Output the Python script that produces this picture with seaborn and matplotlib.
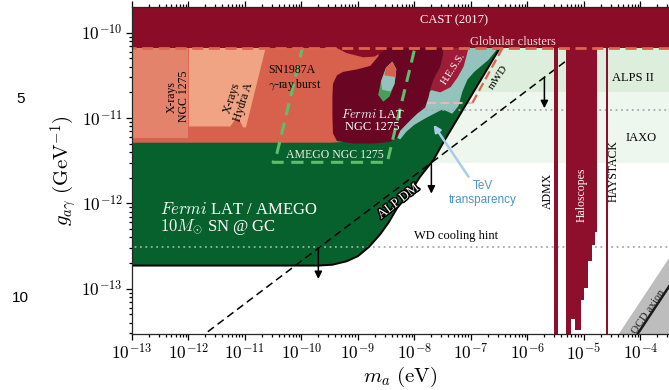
import numpy as np
import matplotlib
matplotlib.use("Agg")
import matplotlib.pyplot as plt
import matplotlib.patheffects as pe
from matplotlib.ticker import FixedLocator, LogLocator, FuncFormatter, NullFormatter
import seaborn as sns

# ---- data (log10 of mass in eV / coupling in GeV^-1 unless noted) ----
M_LIM_LOG = [-13.0, -3.5]
G_LIM_LOG = [-13.53, -9.70]
M_DECADES = [-13, -12, -11, -10, -9, -8, -7, -6, -5, -4]
G_DECADES = [-13, -12, -11, -10]

CAST_G = 6.6e-11
GLOBULAR_G = 6.6e-11
ALPS_II_G = 2.0e-11
IAXO_G = 3.0e-12
WD_HINT_G = 3.1e-13
TEV_HINT_G = 1.25e-11
TEV_HINT_M_START = 1.6e-8

XRAY_NGC_M = [1e-14, 1e-12]
XRAY_NGC_G = 5.9e-12

HYDRA_M_LOG = [-11.99, -11.26, -11.16, -11.10, -11.03, -10.98, -10.62, -11.99]
HYDRA_G_LOG = [-11.10, -11.10, -11.01, -11.02, -11.11, -11.11, -10.15, -10.15]

SN1987A_M_LOG = [-13.5, -9.5, -9.2, -8.9, -8.7, -8.55, -8.45, -13.5]
SN1987A_G_LOG = [-11.29, -11.29, -11.28, -11.15, -10.90, -10.50, -10.15, -10.15]

BULGE_M_LOG = [-9.40, -9.20, -8.90, -8.70, -8.55, -8.50]
BULGE_G_LOG = [-10.17, -10.24, -10.29, -10.28, -10.22, -10.17]

FERMI_M_LOG = [-8.57, -8.64, -8.78, -9.01, -9.26, -9.37, -9.44, -9.45, -9.45, -9.44,
               -9.37, -9.08, -8.73, -8.43, -8.30, -8.25, -8.12, -7.95, -7.81, -7.75,
               -7.72, -7.66, -7.54, -7.49, -7.49]
FERMI_G_LOG = [-10.15, -10.28, -10.39, -10.43, -10.46, -10.50, -10.60, -10.75, -10.99, -11.18,
               -11.27, -11.30, -11.30, -11.28, -11.23, -11.15, -11.06, -10.95, -10.88, -10.76,
               -10.67, -10.55, -10.40, -10.26, -10.15]

HESS_M_LOG = [-7.49, -7.03, -7.08, -7.13, -7.24, -7.36, -7.54, -7.72, -7.66, -7.54, -7.49]
HESS_G_LOG = [-10.15, -10.15, -10.28, -10.40, -10.53, -10.64, -10.70, -10.67, -10.55, -10.40, -10.26]

TEV_M_LOG = [-7.08, -6.48, -6.69, -6.94, -7.06, -7.15, -7.22, -7.33, -7.50, -7.65,
             -7.82, -8.00, -8.14, -8.25, -8.32, -8.16, -7.81, -7.45, -7.18]
TEV_G_LOG = [-10.15, -10.15, -10.32, -10.46, -10.55, -10.69, -10.86, -10.95, -10.90, -10.95,
             -11.01, -11.08, -11.16, -11.25, -11.23, -10.90, -10.73, -10.55, -10.32]

BLOB_M_LOG = [-8.39, -8.32, -8.35, -8.44, -8.55, -8.64, -8.59, -8.50]
BLOB_G_LOG = [-10.34, -10.43, -10.60, -10.75, -10.81, -10.73, -10.57, -10.41]
BLOB_TEV_M_LOG = [-8.39, -8.32, -8.35, -8.42, -8.57, -8.59, -8.50]
BLOB_TEV_G_LOG = [-10.34, -10.43, -10.60, -10.69, -10.67, -10.57, -10.41]
BLOB_SN_M_LOG = [-8.39, -8.32, -8.34, -8.53, -8.50]
BLOB_SN_G_LOG = [-10.34, -10.43, -10.52, -10.50, -10.41]

# projected Fermi LAT / AMEGO sensitivity (10 Msun SN at the GC)
GREEN_M_LOG = [-13.5, -9.70, -9.45, -9.20, -9.00, -8.80, -8.60, -8.45, -8.30, -8.10,
               -7.90, -7.66, -7.49, -6.46]
GREEN_G_LOG = [-12.73, -12.73, -12.72, -12.68, -12.62, -12.51, -12.36, -12.22, -12.05, -11.90,
               -11.69, -11.49, -11.29, -10.15]

AMEGO_M_LOG = [-9.97, -10.43, -10.50, -8.48, -7.98]
AMEGO_G_LOG = [-10.15, -11.41, -11.52, -11.52, -10.15]

MWD_M_LOG = [-7.77, -6.97, -6.44]
MWD_G_LOG = [-10.82, -10.82, -10.18]

ALP_DM_M = [1e-12, 1e-5]
ALP_DM_G = [2.1e-14, 6.7e-11]
ARROW_M = [2e-10, 2e-8, 2e-6]

ADMX_M = [2.92e-6, 3.55e-6]
HAYSTACK_M = [2.45e-5, 2.63e-5]
HALO_EDGES_LOG = [-5.32, -5.23, -5.15, -5.06, -4.99, -4.92, -4.86, -4.81, -4.76]
HALO_BOTTOM_LOG = [-13.6, -13.36, -13.48, -13.13, -12.99, -12.68, -12.49, -12.34]

QCD_M = [1e-6, 1e-3]
QCD_UP_G = [7.1e-16, 7.1e-13]
QCD_LOW_G = [1e-17, 1e-14]
QCD_LINE_G = [3.3e-16, 3.3e-13]

# ---- colours ----
C_CAST = "#8A0C27"
C_HALO = "#8E0F2B"
C_HESS = "#9E1C37"
C_FERMI = "#6A0524"
C_SN = "#D8614D"
C_XNGC = "#E3836B"
C_HYDRA = "#F0A483"
C_GREEN = "#07612D"
C_TEV = "#93C3BC"
C_ALPS = "#DDEFDC"
C_IAXO = "#EEF7ED"
C_AMEGO = "#5DBE6E"


def p10(v):
    return np.power(10.0, np.asarray(v, dtype=float))


def poly(ax, m_log, g_log, color, z, **kw):
    ax.fill(p10(m_log), p10(g_log), color=color, lw=0, zorder=z, **kw)


sns.set_theme(style="ticks")
plt.rcParams["font.family"] = ["Liberation Serif", "DejaVu Serif"]
plt.rcParams["mathtext.fontset"] = "cm"
plt.rcParams["text.color"] = "black"
plt.rcParams["axes.labelcolor"] = "black"
plt.rcParams["xtick.color"] = "black"
plt.rcParams["ytick.color"] = "black"

fig = plt.figure(figsize=(6.69, 3.90), dpi=100)
ax = fig.add_axes([0.197, 0.144, 0.8025, 0.838])
ax.set_xscale("log")
ax.set_yscale("log")
m_lo, m_hi = p10(M_LIM_LOG)
g_lo, g_hi = p10(G_LIM_LOG)
m_wide = [1e-14, 1e-3]

# future sensitivities
ax.fill_between(m_wide, IAXO_G, 1e-9, color=C_IAXO, lw=0, zorder=1)
ax.fill_between(m_wide, ALPS_II_G, 1e-9, color=C_ALPS, lw=0, zorder=1.1)

# green projected region
gm = list(GREEN_M_LOG) + [-6.3, -13.5]
gg = list(GREEN_G_LOG) + [-9.9, -9.9]
poly(ax, gm, gg, C_GREEN, 2)

# existing limits below CAST
poly(ax, SN1987A_M_LOG, SN1987A_G_LOG, C_SN, 3)
ax.fill_between(XRAY_NGC_M, XRAY_NGC_G, 1e-9, color=C_XNGC, lw=0, zorder=3.1)
poly(ax, HYDRA_M_LOG, HYDRA_G_LOG, C_HYDRA, 3.2)
poly(ax, TEV_M_LOG, TEV_G_LOG, C_TEV, 3.3)
poly(ax, FERMI_M_LOG, FERMI_G_LOG, C_FERMI, 3.4)
poly(ax, HESS_M_LOG, HESS_G_LOG, C_HESS, 3.5)
poly(ax, BULGE_M_LOG, BULGE_G_LOG, C_CAST, 3.5)
poly(ax, BLOB_M_LOG, BLOB_G_LOG, "#46A05C", 3.6)
poly(ax, BLOB_TEV_M_LOG, BLOB_TEV_G_LOG, C_TEV, 3.7)
poly(ax, BLOB_SN_M_LOG, BLOB_SN_G_LOG, C_SN, 3.8)

# hint lines
ax.plot(m_wide, [WD_HINT_G, WD_HINT_G], ls=(0, (1, 2)), color="#A8A8A8", lw=1.3, zorder=2.2)
ax.plot([TEV_HINT_M_START, 1e-3], [TEV_HINT_G, TEV_HINT_G], ls=(0, (1, 2)),
        color="#A8A8A8", lw=1.3, zorder=4.1)

# green boundary
sns.lineplot(x=p10(GREEN_M_LOG), y=p10(GREEN_G_LOG), color="black", lw=1.4,
             estimator=None, sort=False, ax=ax, zorder=4)

# mWD
mwd_m, mwd_g = p10(MWD_M_LOG), p10(MWD_G_LOG)
ax.plot(mwd_m[:2], mwd_g[:2], color="#E8B8B4", lw=1.6, ls=(0, (4, 2)), zorder=3.9)
ax.plot(mwd_m[1:], mwd_g[1:], color="#E0624F", lw=1.6, ls=(0, (4, 2)), zorder=4.05)

# AMEGO NGC 1275 contour
ax.plot(p10(AMEGO_M_LOG), p10(AMEGO_G_LOG), color=C_AMEGO, lw=2.2,
        ls=(0, (4, 2.5)), zorder=4.2)

# ALP dark matter line + arrows
sns.lineplot(x=ALP_DM_M, y=ALP_DM_G, color="black", lw=1.1, ls=(0, (5, 3)),
             estimator=None, ax=ax, zorder=4.3)
slope = np.log10(ALP_DM_G[1] / ALP_DM_G[0]) / np.log10(ALP_DM_M[1] / ALP_DM_M[0])
for m in ARROW_M:
    g = ALP_DM_G[0] * (m / ALP_DM_M[0]) ** slope
    ax.annotate("", xy=(m, g / 2.3), xytext=(m, g),
                arrowprops=dict(arrowstyle="-|>", color="black", lw=1.1,
                                mutation_scale=11, shrinkA=0, shrinkB=0),
                zorder=4.4)

# haloscopes
ax.fill_between(ADMX_M, g_lo / 2, 1e-9, color=C_HALO, lw=0, zorder=4.5)
ax.fill_between(HAYSTACK_M, g_lo / 2, 1e-9, color=C_HALO, lw=0, zorder=4.5)
ax.fill_between(p10(HALO_EDGES_LOG), p10(HALO_BOTTOM_LOG + [HALO_BOTTOM_LOG[-1]]), 1e-9,
                step="post", color=C_HALO, lw=0, zorder=4.5)

# QCD axion band
ax.fill_between(QCD_M, QCD_LOW_G, QCD_UP_G, color="#BDBDBD", lw=0, zorder=4.5)
sns.lineplot(x=QCD_M, y=QCD_LINE_G, color="#1A1A1A", lw=1.8, estimator=None,
             ax=ax, zorder=4.6)

# CAST + globular clusters
ax.fill_between(m_wide, CAST_G, 1e-9, color=C_CAST, lw=0, zorder=5)
ax.plot(m_wide, [GLOBULAR_G, GLOBULAR_G], color="#DA6652", lw=2.0,
        ls=(0, (4, 2)), zorder=5.1)

# ---- labels ----
def lab(m_log, g_log, s, **kw):
    kw.setdefault("ha", "center")
    kw.setdefault("va", "center")
    kw.setdefault("zorder", 6)
    ax.text(10 ** m_log, 10 ** g_log, s, **kw)

lab(-7.29, -9.86, "CAST (2017)", color="white", fontsize=9)
lab(-6.26, -10.11, "Globular clusters", color="#F6DCD8", fontsize=9)
lab(-12.18, -10.75, "X-rays\nNGC 1275", rotation=90, fontsize=8.5, linespacing=1.0)
lab(-11.13, -10.79, "X-rays\nHydra A", rotation=72, fontsize=8.5, linespacing=1.0)
lab(-10.59, -10.54, "SN1987A\n$\\gamma$-ray burst", ha="left", fontsize=8.5, linespacing=1.05)
lab(-8.74, -11.03, "$\\mathit{Fermi}$ LAT\nNGC 1275", color="white", fontsize=9,
    linespacing=1.05)
lab(-9.40, -11.43, "AMEGO NGC 1275", color="#E9F4E9", fontsize=8.5)
lab(-7.31, -10.42, "H.E.S.S.", color="white", rotation=57, fontsize=7.5)
lab(-6.52, -10.52, "mWD", rotation=56, fontsize=8)
lab(-6.79, -11.88, "TeV\ntransparency", color="#4C93C9", fontsize=8.5,
    family="Liberation Sans", linespacing=1.15)
ax.annotate("", xy=(10 ** -7.66, 10 ** -11.08), xytext=(10 ** -7.04, 10 ** -11.69),
            arrowprops=dict(arrowstyle="-|>", color="#A9CDE6", lw=1.8,
                            mutation_scale=10, shrinkA=0, shrinkB=0), zorder=6)
lab(-12.50, -12.19, "$\\mathit{Fermi}$ LAT / AMEGO\n$10M_{\\odot}$ SN @ GC", ha="left",
    color="white", fontsize=12, linespacing=1.0)
lab(-8.28, -11.98, "ALP DM", color="white", rotation=38, fontsize=9.5,
    path_effects=[pe.withStroke(linewidth=2.2, foreground="black")])
lab(-7.27, -12.38, "WD cooling hint", fontsize=9)
lab(-5.64, -11.86, "ADMX", rotation=90, fontsize=8.5)
lab(-5.04, -11.90, "Haloscopes", rotation=90, color="white", fontsize=8.5)
lab(-4.47, -11.62, "HAYSTACK", rotation=90, fontsize=8.5)
lab(-4.13, -10.53, "ALPS II", fontsize=9)
lab(-3.99, -11.23, "IAXO", fontsize=9)
lab(-3.86, -13.27, "QCD axion", rotation=56, color="#222222", fontsize=8)

# stray margin numbers
fig.text(0.031, 1 - 99 / 390, "5", family="Liberation Sans", fontsize=11,
         ha="center", va="center")
fig.text(0.031, 1 - 298 / 390, "10", family="Liberation Sans", fontsize=11,
         ha="center", va="center")

# ---- axes ----
ax.set_xlim(m_lo, m_hi)
ax.set_ylim(g_lo, g_hi)
fmt = FuncFormatter(lambda v, pos: "$10^{%d}$" % int(round(np.log10(v))))
ax.xaxis.set_major_locator(FixedLocator(p10(M_DECADES)))
ax.yaxis.set_major_locator(FixedLocator(p10(G_DECADES)))
ax.xaxis.set_minor_locator(LogLocator(base=10, subs=np.arange(2, 10), numticks=20))
ax.yaxis.set_minor_locator(LogLocator(base=10, subs=np.arange(2, 10), numticks=20))
ax.xaxis.set_major_formatter(fmt)
ax.yaxis.set_major_formatter(fmt)
ax.xaxis.set_minor_formatter(NullFormatter())
ax.yaxis.set_minor_formatter(NullFormatter())
ax.tick_params(which="both", direction="out", top=True, right=False, labelsize=12.5,
               width=0.9)
ax.tick_params(which="major", length=4.5, pad=2)
ax.tick_params(which="minor", length=2.5)
ax.spines["right"].set_visible(False)
for s in ["left", "bottom", "top"]:
    ax.spines[s].set_linewidth(0.9)
    ax.spines[s].set_zorder(7)
ax.set_xlabel("$m_a\\ (\\mathrm{eV})$", fontsize=15, labelpad=1)
ax.set_ylabel("$g_{a\\gamma}\\ (\\mathrm{GeV}^{-1})$", fontsize=15, labelpad=2)

fig.savefig("out.png", dpi=100)
